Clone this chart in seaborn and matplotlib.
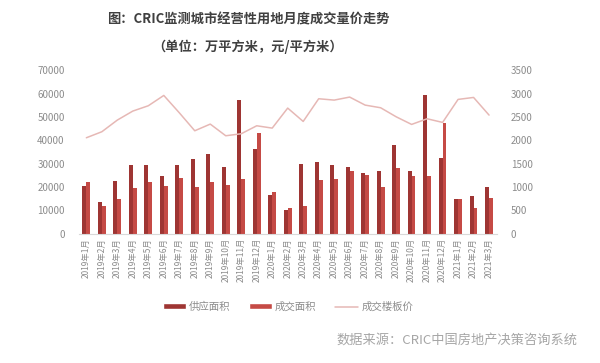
import numpy as np
import pandas as pd
import matplotlib
matplotlib.use("Agg")
import matplotlib.pyplot as plt
import seaborn as sns
from matplotlib.patches import Patch
from matplotlib.lines import Line2D

# ---- data ----
months = ([f"2019年{m}月" for m in range(1, 13)]
          + [f"2020年{m}月" for m in range(1, 13)]
          + [f"2021年{m}月" for m in range(1, 4)])

supply = [20600, 13600, 22600, 29400, 29400, 24900, 29300, 31900, 34000, 28600, 57300, 36400,
          16700, 10400, 29900, 30900, 29600, 28400, 26100, 27000, 37900, 27100, 59600, 32600,
          15100, 16100, 19900]
deal = [22000, 12000, 14900, 19700, 22400, 20300, 23700, 20000, 22400, 21100, 23300, 43100,
        17700, 10900, 11700, 22900, 23300, 26900, 25100, 19900, 28000, 24900, 24700, 47400,
        15100, 10900, 15300]
price = [2057, 2186, 2436, 2629, 2743, 2964, 2593, 2207, 2350, 2100, 2143, 2314,
         2264, 2693, 2407, 2893, 2864, 2929, 2757, 2700, 2507, 2343, 2464, 2386,
         2879, 2921, 2543]

series_names = ["供应面积", "成交面积", "成交楼板价"]
bar_colors = ["#9E3533", "#C54A45"]
line_color = "#E6B8B5"

sns.set_theme(style="white")
plt.rcParams["font.family"] = ["Noto Sans CJK SC", "DejaVu Sans"]

df = pd.DataFrame({
    "month": months * 2,
    "area": supply + deal,
    "kind": [series_names[0]] * len(months) + [series_names[1]] * len(months),
})

fig = plt.figure(figsize=(6, 3.63), dpi=100)
ax = fig.add_axes([0.131, 0.356, 0.697, 0.45])

sns.barplot(data=df, x="month", y="area", hue="kind", order=months,
            palette=bar_colors, width=0.5, saturation=1, linewidth=0,
            ax=ax, legend=False)

ax.set_ylim(0, 70000)
ax.set_yticks(np.arange(0, 70001, 10000))
ax.set_xlim(-0.5, len(months) - 0.5)
ax.set_xlabel("")
ax.set_ylabel("")

ax2 = ax.twinx()
sns.lineplot(x=np.arange(len(months)), y=price, sort=False, color=line_color,
             linewidth=1.1, ax=ax2)
ax2.set_ylim(0, 3500)
ax2.set_yticks(np.arange(0, 3501, 500))

for a in (ax, ax2):
    for s in a.spines.values():
        s.set_visible(False)
    a.tick_params(axis="y", length=0, labelsize=7, colors="#8C8C8C", pad=10)
ax.spines["bottom"].set_visible(True)
ax.spines["bottom"].set_color("#D9D9D9")
ax.spines["bottom"].set_linewidth(0.8)

ax.tick_params(axis="x", which="major", length=0, labelsize=6, colors="#8C8C8C",
               rotation=90, pad=3)
ax.set_xticks(np.arange(-0.5, len(months), 1), minor=True)
ax.tick_params(axis="x", which="minor", length=3, color="#D9D9D9", width=0.8)

fig.text(0.413, 0.945, "图：CRIC监测城市经营性用地月度成交量价走势", ha="center", va="center",
         fontsize=9.5, fontweight="bold", color="#404040")
fig.text(0.413, 0.87, "（单位：万平方米，元/平方米）", ha="center", va="center",
         fontsize=9.5, fontweight="bold", color="#404040")

handles = [Patch(facecolor=bar_colors[0]), Patch(facecolor=bar_colors[1]),
           Line2D([0], [0], color=line_color, linewidth=1.1)]
fig.legend(handles, series_names, loc="center", bbox_to_anchor=(0.48, 0.155), ncol=3,
           frameon=False, fontsize=7.5, handlelength=2.2, handleheight=0.5,
           columnspacing=1.8, handletextpad=0.3, labelcolor="#8C8C8C")

fig.text(0.963, 0.063, "数据来源：CRIC中国房地产决策咨询系统", ha="right", va="center",
         fontsize=9.5, color="#A6A6A6")

fig.savefig("out.png", dpi=100)
